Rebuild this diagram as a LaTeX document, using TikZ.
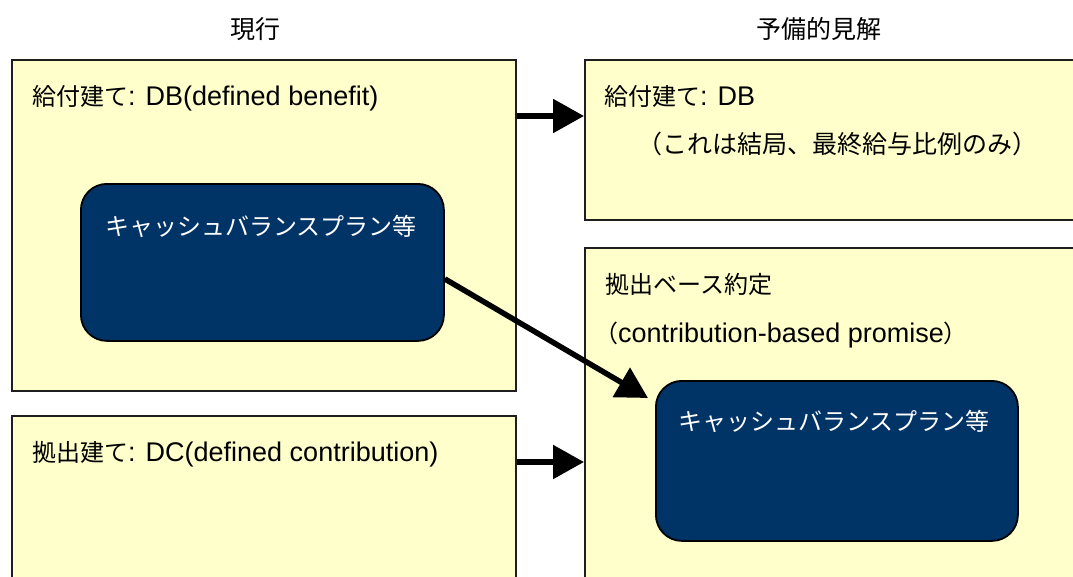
\documentclass[tikz,border=0pt]{standalone}
\usepackage{fontspec}
\setmainfont{Liberation Sans}
\newfontfamily\cjk{Noto Sans CJK JP}
\newcommand\jp[1]{{\fontsize{24}{28}\selectfont\cjk #1}}
\usetikzlibrary{arrows.meta}
\definecolor{boxfill}{RGB}{255,255,204}
\definecolor{navy}{RGB}{0,51,102}
\definecolor{boxline}{RGB}{30,30,30}
\begin{document}
\begin{tikzpicture}[x=1pt,y=-1pt,
  panel/.style={draw=boxline, line width=1.5pt, fill=boxfill, rectangle, inner sep=0, anchor=north west},
  plan/.style={draw=black, line width=1.8pt, fill=navy, rounded corners=26pt, inner sep=0, anchor=north west},
  lbl/.style={inner sep=0, font=\fontsize{27}{28}\selectfont, anchor=base west},
  head/.style={inner sep=0, font=\fontsize{25}{30}\selectfont\cjk, anchor=base},
  arr/.style={line width=5.5pt, -{Triangle[length=31pt,width=33pt]}}]
\useasboundingbox (0,0) rectangle (1073,576);
\clip (0,0) rectangle (1073,576);
\fill[white] (0,0) rectangle (1073,576);
% panels
\node[panel, minimum width=504pt, minimum height=331pt] (box1) at (11,59) {};
\node[panel, minimum width=504pt, minimum height=220pt] (box2) at (11,415) {};
\node[panel, minimum width=560pt, minimum height=160pt] (box3) at (584,59) {};
\node[panel, minimum width=560pt, minimum height=400pt] (box4) at (584,247) {};
% plans
\node[plan, minimum width=363pt, minimum height=157pt] (dark1) at (80,183) {};
\node[plan, minimum width=362pt, minimum height=160pt] (dark2) at (655,380) {};
% headers
\node[head] (h1) at (255,38) {現行};
\node[head] (h2) at (819,38) {予備的見解};
% labels
\node[lbl] (t1) at (32,105) {\jp{給付建て}: DB(defined benefit)};
\node[lbl] (t3) at (604,105) {\jp{給付建て}: DB};
\node[lbl, anchor=base] (t3b) at (837,153) {\fontsize{25}{28}\selectfont\cjk （これは結局、最終給与比例のみ）};
\node[lbl] (t4) at (605,293) {\jp{拠出ベース約定}};
\node[lbl] (t4b) at (594,342) {\jp{（}contribution-based promise\jp{）}};
\node[lbl] (t2) at (32,461) {\jp{拠出建て}: DC(defined contribution)};
\node[lbl, anchor=base, text=white] (d1t) at (261,235) {\jp{キャッシュバランスプラン等}};
\node[lbl, anchor=base, text=white] (d2t) at (834,430) {\jp{キャッシュバランスプラン等}};
% arrows
\draw[arr] ([yshift=-57pt]box1.north east) -- ([yshift=-57pt]box3.north west);
\draw[arr] ([yshift=-47pt]box2.north east) -- ([yshift=-215pt]box4.north west);
\draw[arr] ([yshift=-16.5pt]dark1.east) -- ([xshift=-7pt,yshift=-18pt]dark2.north west);
\end{tikzpicture}
\end{document}
